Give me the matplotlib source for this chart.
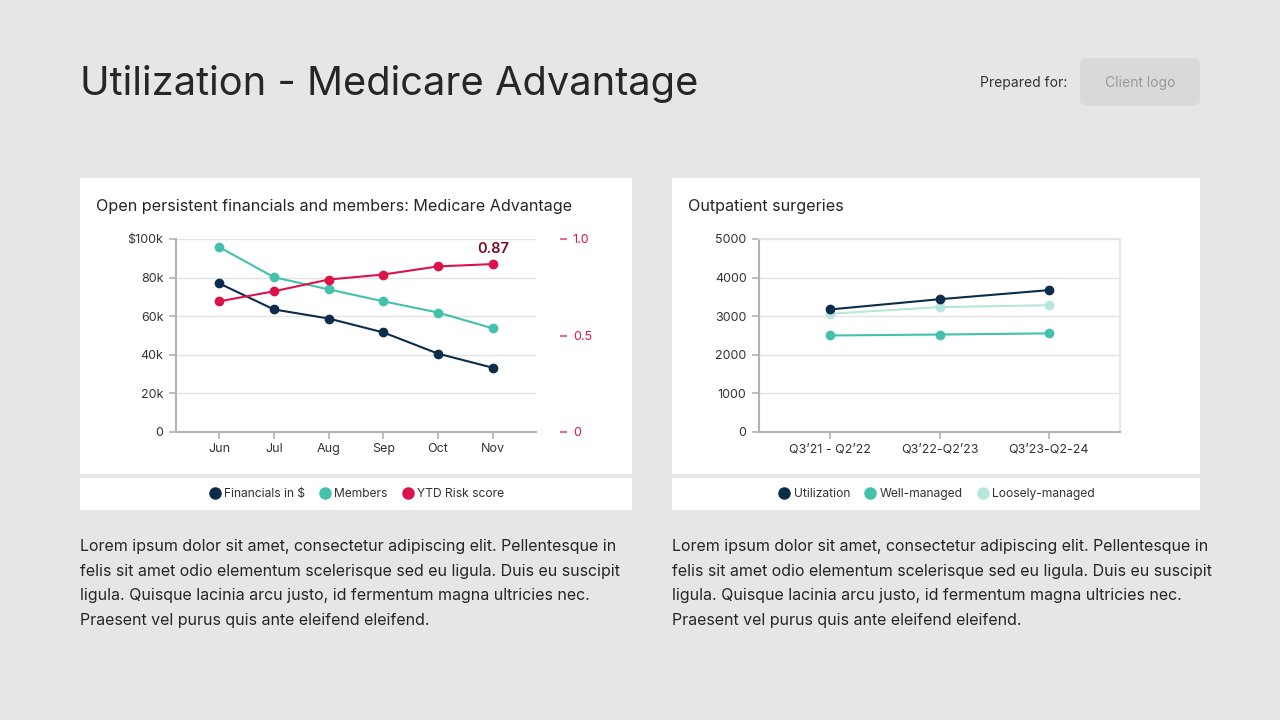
import matplotlib.pyplot as plt
from matplotlib.patches import Rectangle, FancyBboxPatch
from matplotlib.lines import Line2D

plt.rcParams['font.family'] = ['Inter', 'DejaVu Sans']

# data
months = ['Jun', 'Jul', 'Aug', 'Sep', 'Oct', 'Nov']
financials = [77000, 63500, 58800, 51600, 40600, 33300]
members = [95800, 80200, 73900, 67700, 61900, 53700]
risk_score = [0.677, 0.729, 0.790, 0.816, 0.858, 0.87]

periods = ["Q3\u201921 - Q2\u201922", "Q3\u201922-Q2\u201923", "Q3\u201923-Q2-24"]
utilization = [3175, 3440, 3675]
well_managed = [2500, 2525, 2555]
loosely_managed = [3065, 3235, 3285]

body = ("Lorem ipsum dolor sit amet, consectetur adipiscing elit. Pellentesque in\n"
        "felis sit amet odio elementum scelerisque sed eu ligula. Duis eu suscipit\n"
        "ligula. Quisque lacinia arcu justo, id fermentum magna ultricies nec.\n"
        "Praesent vel purus quis ante eleifend eleifend.")

NAVY = '#0c2c4c'
TEAL = '#43c1ad'
LIGHT = '#b6e6dc'
RED = '#dc124a'
BG = '#e6e6e6'
TXT = '#262626'

W, H = 1280, 720
fig = plt.figure(figsize=(12.8, 7.2), dpi=100)
fig.patch.set_facecolor(BG)


def fx(x):
    return x / W


def fy(y):
    return 1 - y / H


def rect(x0, y0, x1, y1, **kw):
    fig.patches.append(Rectangle((fx(x0), fy(y1)), fx(x1 - x0), (y1 - y0) / H,
                                 transform=fig.transFigure, zorder=-1, **kw))


def axes_px(x0, y0, x1, y1):
    return fig.add_axes([fx(x0), fy(y1), fx(x1 - x0), (y1 - y0) / H])


# header
fig.text(fx(80), fy(84), 'Utilization - Medicare Advantage', fontsize=28.7,
         color=TXT, va='center', ha='left')
fig.text(fx(1067), fy(83), 'Prepared for:', fontsize=10, color='#333333',
         va='center', ha='right')
fig.patches.append(FancyBboxPatch((fx(1080), fy(106)), fx(120), 48 / H,
                                  boxstyle='round,pad=0,rounding_size=0.008',
                                  transform=fig.transFigure, facecolor='#d9d9d9',
                                  edgecolor='none', zorder=-1))
fig.text(fx(1140), fy(83), 'Client logo', fontsize=10, color='#9a9a9a',
         va='center', ha='center')

# cards
for x0, x1 in [(80, 632), (672, 1200)]:
    rect(x0, 178, x1, 474, facecolor='white', edgecolor='none')
    rect(x0, 478, x1, 510, facecolor='white', edgecolor='none')

fig.text(fx(96), fy(207), 'Open persistent financials and members: Medicare Advantage',
         fontsize=11.6, color=TXT, va='center')
fig.text(fx(688), fy(207), 'Outpatient surgeries', fontsize=11.6, color=TXT,
         va='center')


def style_axes(ax):
    ax.set_facecolor('none')
    ax.grid(axis='y', color='#e3e3e3', linewidth=1)
    ax.set_axisbelow(True)
    for s in ['left', 'bottom']:
        ax.spines[s].set_color('#b3b3b3')
        ax.spines[s].set_linewidth(1.5)
    ax.tick_params(axis='both', colors='#b3b3b3', labelcolor='#333333',
                   labelsize=9, length=5, width=1.2, pad=4)


# left chart
ax1 = axes_px(176, 239, 536, 432)
style_axes(ax1)
ax1.spines['top'].set_visible(False)
ax1.spines['right'].set_visible(False)
x = range(len(months))
ax1.plot(x, financials, color=NAVY, lw=1.5, marker='o', ms=6, zorder=3)
ax1.plot(x, members, color=TEAL, lw=1.5, marker='o', ms=6, zorder=3)
ax1.set_xlim(-0.79, 5.79)
ax1.set_ylim(0, 100000)
ax1.set_yticks([0, 20000, 40000, 60000, 80000, 100000])
ax1.set_yticklabels(['0', '20k', '40k', '60k', '80k', '$100k'])
ax1.set_xticks(list(x))
ax1.set_xticklabels(months)
ax1.tick_params(axis='x', pad=3)

ax1r = ax1.twinx()
ax1r.set_facecolor('none')
for s in ax1r.spines.values():
    s.set_visible(False)
ax1r.spines['right'].set_position(('outward', 17.5))
ax1r.plot(x, risk_score, color=RED, lw=1.5, marker='o', ms=6, zorder=3)
ax1r.set_ylim(0, 1)
ax1r.set_yticks([0, 0.5, 1.0])
ax1r.set_yticklabels(['0', '0.5', '1.0'])
ax1r.tick_params(axis='y', colors='#e0708c', labelcolor=RED, labelsize=9,
                 length=5, width=1.5, pad=4)
ax1r.annotate(f'{risk_score[-1]:.2f}', (5, risk_score[-1]), xytext=(0, 6),
              textcoords='offset points', ha='center', va='bottom',
              fontsize=10.5, color='#7a0b22', fontweight='semibold')

# right chart
ax2 = axes_px(759, 239, 1120, 432)
style_axes(ax2)
for s in ['top', 'right']:
    ax2.spines[s].set_color('#e3e3e3')
    ax2.spines[s].set_linewidth(1.2)
xp = range(len(periods))
ax2.plot(xp, loosely_managed, color=LIGHT, lw=1.5, marker='o', ms=6, zorder=3)
ax2.plot(xp, well_managed, color=TEAL, lw=1.5, marker='o', ms=6, zorder=3)
ax2.plot(xp, utilization, color=NAVY, lw=1.5, marker='o', ms=6, zorder=4)
ax2.set_xlim(-0.65, 2.65)
ax2.set_ylim(0, 5000)
ax2.set_yticks([0, 1000, 2000, 3000, 4000, 5000])
ax2.set_xticks(list(xp))
ax2.set_xticklabels(periods)
ax2.tick_params(axis='x', pad=3)


# legends
def legend(cx, labels, colors):
    handles = [Line2D([], [], ls='none', marker='o', ms=8, color=c) for c in colors]
    fig.legend(handles, labels, loc='center', bbox_to_anchor=(fx(cx), fy(494)),
               ncol=len(labels), frameon=False, fontsize=8.7, handletextpad=0.15,
               columnspacing=1.1, handlelength=1.2, labelcolor='#333333')


legend(356, ['Financials in $', 'Members', 'YTD Risk score'], [NAVY, TEAL, RED])
legend(936, ['Utilization', 'Well-managed', 'Loosely-managed'], [NAVY, TEAL, LIGHT])

# body text
for x0 in [80, 672]:
    fig.text(fx(x0), fy(539), body, fontsize=11.5, color=TXT, va='top', ha='left',
             linespacing=1.8)

fig.savefig('out.png', dpi=100, facecolor=BG)
